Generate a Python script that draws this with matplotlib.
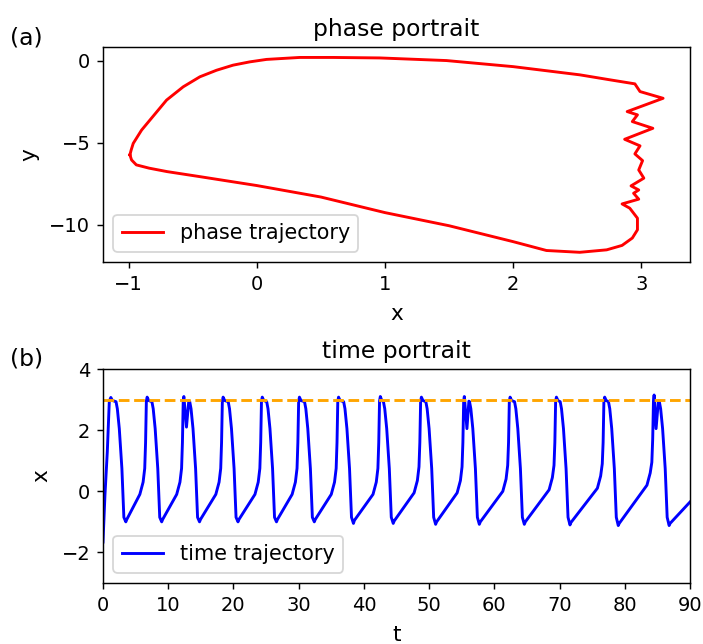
import numpy as np
import matplotlib
matplotlib.use('Agg')
import matplotlib.pyplot as plt

# (a) phase trajectory
phase_x = [-0.99, -0.98, -0.964, -0.899, -0.834, -0.704, -0.574, -0.444, -0.314, -0.185, -0.055,
           0.076, 0.335, 0.595, 0.96, 1.48, 2.0, 2.52, 2.76, 2.95, 2.99, 3.17, 2.89, 2.97, 2.93,
           3.09, 2.87, 2.99, 2.95, 3.01, 2.98, 3.02, 2.92, 2.98, 2.94, 2.98, 2.85, 2.91, 2.97,
           2.97, 2.93, 2.85, 2.73, 2.52, 2.26, 2.0, 1.5, 1.0, 0.5, 0.0, -0.45, -0.7, -0.84,
           -0.94, -0.977, -0.99]
phase_y = [-5.73, -5.43, -5.03, -4.22, -3.61, -2.39, -1.58, -0.97, -0.57, -0.26, -0.06,
           0.09, 0.21, 0.21, 0.18, 0.02, -0.35, -0.85, -1.16, -1.40, -1.87, -2.28, -3.09, -3.29, -3.70,
           -4.11, -4.78, -5.18, -5.67, -6.08, -6.65, -7.15, -7.62, -7.87, -8.07, -8.43, -8.72, -8.98, -9.59,
           -10.3, -10.8, -11.25, -11.52, -11.67, -11.56, -11.02, -10.05, -9.25, -8.3, -7.6, -7.05, -6.75, -6.54,
           -6.34, -6.04, -5.73]

# (b) time trajectory, one row per spike
t_vals = [0, 0.3, 0.66, 0.97, 1.2, 1.45, 2.0, 2.2, 2.5, 2.9, 3.2, 3.5,
          3.65, 5.65, 6.15, 6.4, 6.53, 6.65, 6.77, 7.0, 7.5, 7.7, 8.0, 8.4, 8.7, 9.0,
          9.15, 11.3, 11.8, 12.05, 12.18, 12.3, 12.4, 12.8, 13.15, 13.3, 13.5, 13.8, 14.2, 14.5, 14.8,
          14.95, 17.3, 17.8, 18.05, 18.18, 18.3, 18.42, 18.65, 19.2, 19.4, 19.7, 20.1, 20.4, 20.7,
          20.85, 23.3, 23.8, 24.05, 24.18, 24.3, 24.42, 24.65, 25.1, 25.3, 25.6, 26.0, 26.3, 26.6,
          26.75, 29.0, 29.5, 29.75, 29.88, 30.0, 30.12, 30.35, 30.9, 31.1, 31.4, 31.8, 32.1, 32.4,
          32.55, 35.0, 35.5, 35.75, 35.88, 36.0, 36.12, 36.35, 36.9, 37.1, 37.4, 37.8, 38.1, 38.4,
          38.55, 41.4, 41.9, 42.15, 42.28, 42.4, 42.52, 42.75, 43.0, 43.2, 43.5, 43.9, 44.2, 44.5,
          44.65, 47.7, 48.2, 48.45, 48.58, 48.7, 48.82, 49.05, 49.5, 49.7, 50.0, 50.4, 50.7, 51.0,
          51.15, 54.3, 54.8, 55.05, 55.18, 55.3, 55.4, 55.8, 56.1, 56.2, 56.4, 56.7, 57.1, 57.4, 57.7,
          57.85, 61.3, 61.8, 62.05, 62.18, 62.3, 62.42, 62.65, 63.1, 63.3, 63.6, 64.0, 64.3, 64.6,
          64.75, 68.4, 68.9, 69.15, 69.28, 69.4, 69.52, 69.75, 70.1, 70.3, 70.6, 71.0, 71.3, 71.6,
          71.75, 75.8, 76.3, 76.55, 76.68, 76.8, 76.92, 77.15, 77.5, 77.7, 78.0, 78.4, 78.7, 79.0,
          79.15, 83.4, 83.9, 84.15, 84.28, 84.4, 84.5, 84.8, 85.15, 85.3, 85.5, 85.8, 86.2, 86.5, 86.8,
          86.95, 90.0]
x_vals = [-1.66, -0.13, 1.29, 2.95, 3.07, 2.97, 2.93, 2.7, 2.05, 0.74, -0.85, -1.0,
          -0.92, -0.1, 0.3, 0.75, 1.6, 2.95, 3.08, 2.97, 2.93, 2.7, 2.05, 0.74, -0.85, -1.0,
          -0.92, -0.1, 0.3, 0.75, 1.6, 2.95, 3.1, 2.1, 2.95, 2.93, 2.7, 2.05, 0.74, -0.85, -1.0,
          -0.92, -0.1, 0.3, 0.75, 1.6, 2.95, 3.08, 2.97, 2.93, 2.7, 2.05, 0.74, -0.85, -1.0,
          -0.92, -0.1, 0.3, 0.75, 1.6, 2.95, 3.08, 2.97, 2.93, 2.7, 2.05, 0.74, -0.85, -1.0,
          -0.92, -0.1, 0.3, 0.75, 1.6, 2.95, 3.08, 2.97, 2.93, 2.7, 2.05, 0.74, -0.85, -1.0,
          -0.92, -0.1, 0.3, 0.75, 1.6, 2.95, 3.08, 2.97, 2.93, 2.7, 2.05, 0.74, -0.85, -1.05,
          -0.95, -0.1, 0.3, 0.75, 1.6, 2.95, 3.1, 2.97, 2.93, 2.7, 2.05, 0.74, -0.85, -1.05,
          -0.97, -0.05, 0.35, 0.8, 1.6, 2.95, 3.08, 2.97, 2.93, 2.7, 2.05, 0.74, -0.85, -1.08,
          -1.0, -0.05, 0.35, 0.8, 1.6, 2.95, 3.1, 2.05, 2.95, 2.93, 2.7, 2.05, 0.74, -0.85, -1.08,
          -1.0, 0.0, 0.4, 0.85, 1.6, 2.95, 3.08, 2.97, 2.93, 2.7, 2.05, 0.74, -0.85, -1.08,
          -1.0, 0.05, 0.45, 0.85, 1.6, 2.95, 3.08, 2.97, 2.93, 2.7, 2.05, 0.74, -0.85, -1.1,
          -1.02, 0.1, 0.5, 0.9, 1.6, 2.95, 3.08, 2.97, 2.93, 2.7, 2.05, 0.74, -0.85, -1.12,
          -1.05, 0.2, 0.6, 0.95, 1.7, 2.95, 3.15, 2.05, 2.95, 2.93, 2.7, 2.05, 0.74, -0.85, -1.12,
          -1.05, -0.35]
x_threshold = 3

plt.rcParams['xtick.labelsize'] = 10.8
plt.rcParams['ytick.labelsize'] = 10.8
plt.rcParams['axes.labelsize'] = 12
plt.rcParams['axes.labelpad'] = 5.5
plt.rcParams['axes.titlesize'] = 13
plt.rcParams['legend.fontsize'] = 11.5

fig = plt.figure(figsize=(703/130, 644/130), dpi=130)
ax1 = fig.add_axes([0.1465, 0.5932, 0.835, 0.3339])
ax2 = fig.add_axes([0.1465, 0.0947, 0.835, 0.3323])

ax1.plot(phase_x, phase_y, color='red', lw=1.6, label='phase trajectory')
ax1.set_xlim(-1.2, 3.38); ax1.set_ylim(-12.26, 0.85)
ax1.set_xticks([-1, 0, 1, 2, 3]); ax1.set_yticks([0, -5, -10])
ax1.set_xlabel('x'); ax1.set_ylabel('y'); ax1.set_title('phase portrait')
ax1.legend(loc='lower left')

ax2.plot(t_vals, x_vals, color='blue', lw=1.6, label='time trajectory')
ax2.axhline(x_threshold, color='orange', linestyle='--', lw=1.6)
ax2.set_xlim(0, 90); ax2.set_ylim(-3, 4)
ax2.set_xticks(np.arange(0, 91, 10)); ax2.set_yticks([-2, 0, 2, 4])
ax2.set_xlabel('t'); ax2.set_ylabel('x'); ax2.set_title('time portrait')
ax2.legend(loc='lower left')

fig.text(0.014, 0.941, '(a)', fontsize=13, va='center')
fig.text(0.014, 0.4425, '(b)', fontsize=13, va='center')

fig.savefig('out.png', dpi=130)
